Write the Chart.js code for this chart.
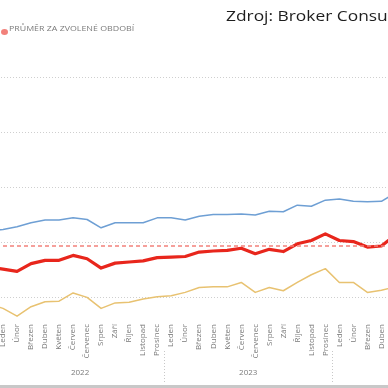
<!DOCTYPE html>
<html>
<head>
<meta charset="utf-8">
<script src="https://cdn.jsdelivr.net/npm/chart.js@4.4.1/dist/chart.umd.min.js"></script>
<style>
  html, body { margin: 0; padding: 0; background: #fff; overflow: hidden; width: 388px; height: 388px; }
  #wrap { position: absolute; left: -21px; top: 0; width: 430px; height: 388px; }
  #title { position: absolute; left: 226px; top: 9px; font: 14px/1 "Open Sans", sans-serif; color: #1e1e1e; white-space: nowrap; transform: scaleX(1.24); transform-origin: 0 0; }
  #legendDot { position: absolute; left: 1px; top: 29px; width: 7px; height: 6px; border-radius: 50%; background: #f2817b; }
  #legendText { position: absolute; left: 9px; top: 25px; font: 7px/1 "Open Sans", sans-serif; color: #7a7a7a; white-space: nowrap; transform: scaleX(1.26); transform-origin: 0 0; }
  #scroll { position: absolute; left: 0; top: 385px; width: 388px; height: 3px; background: #c8c8c8; }
</style>
</head>
<body>
<div id="wrap"><canvas id="chart" width="430" height="388"></canvas></div>
<div id="title">Zdroj: Broker Consulting</div>
<div id="legendDot"></div>
<div id="legendText">PRŮMĚR ZA ZVOLENÉ OBDOBÍ</div>
<div id="scroll"></div>
<script>
// Months shown (Prosinec 2021 and Květen 2024 sit just outside the visible area)
const months = ['Prosinec',
  'Leden', 'Únor', 'Březen', 'Duben', 'Květen', 'Červen', 'Červenec', 'Srpen', 'Září', 'Říjen', 'Listopad', 'Prosinec',
  'Leden', 'Únor', 'Březen', 'Duben', 'Květen', 'Červen', 'Červenec', 'Srpen', 'Září', 'Říjen', 'Listopad', 'Prosinec',
  'Leden', 'Únor', 'Březen', 'Duben', 'Květen'];
const years = ['2021',
  '2022', '2022', '2022', '2022', '2022', '2022', '2022', '2022', '2022', '2022', '2022', '2022',
  '2023', '2023', '2023', '2023', '2023', '2023', '2023', '2023', '2023', '2023', '2023', '2023',
  '2024', '2024', '2024', '2024', '2024'];

const upper = [5.21, 5.24, 5.29, 5.36, 5.41, 5.41, 5.45, 5.42, 5.27, 5.36, 5.36, 5.36, 5.45,
  5.45, 5.41, 5.48, 5.51, 5.51, 5.52, 5.50, 5.57, 5.56, 5.68, 5.66, 5.77,
  5.79, 5.75, 5.74, 5.75, 5.90];
const mean = [4.56, 4.52, 4.48, 4.62, 4.68, 4.68, 4.77, 4.71, 4.54, 4.63, 4.65, 4.67, 4.73,
  4.74, 4.75, 4.83, 4.85, 4.86, 4.90, 4.80, 4.88, 4.84, 4.98, 5.04, 5.16,
  5.04, 5.02, 4.92, 4.94, 5.14];
const lower = [3.89, 3.81, 3.67, 3.84, 3.93, 3.94, 4.09, 4.01, 3.81, 3.91, 3.92, 3.98, 4.02,
  4.04, 4.10, 4.19, 4.20, 4.20, 4.28, 4.10, 4.19, 4.13, 4.28, 4.42, 4.53,
  4.28, 4.28, 4.10, 4.14, 4.20];
const periodAverage = 4.94;
const gridValues = [4, 5, 6, 7, 8];

// year row + separators under the month labels
const yearAxis = {
  id: 'yearAxis',
  afterDraw(chart) {
    const x = chart.scales.x;
    const c = chart.ctx;
    c.save();
    c.font = '8px "Open Sans", sans-serif';
    c.fillStyle = '#7a7a7a';
    c.textAlign = 'center';
    c.textBaseline = 'middle';
    const groups = {};
    years.forEach((y, i) => { (groups[y] = groups[y] || []).push(i); });
    Object.keys(groups).forEach(y => {
      const idx = groups[y];
      if (idx.length < 12) return;
      const mid = (x.getPixelForValue(idx[0]) + x.getPixelForValue(idx[idx.length - 1])) / 2;
      c.fillText(y, mid, 373);
    });
    c.strokeStyle = '#c8c8c8';
    c.lineWidth = 1;
    c.setLineDash([1, 2]);
    for (let i = 1; i < years.length; i++) {
      if (years[i] !== years[i - 1]) {
        const sx = Math.round((x.getPixelForValue(i - 1) + x.getPixelForValue(i)) / 2) + 0.5;
        c.beginPath();
        c.moveTo(sx, 351);
        c.lineTo(sx, 384);
        c.stroke();
      }
    }
    c.restore();
  }
};

const ctx = document.getElementById('chart').getContext('2d');

new Chart(ctx, {
  type: 'line',
  data: {
    labels: months,
    datasets: [
      { label: 'Průměr za zvolené období', data: months.map(() => periodAverage), borderColor: '#f2817b', borderWidth: 1.5, borderDash: [4, 3] },
      { label: 'Maximum', data: upper, borderColor: '#6e9fd4', borderWidth: 1.5 },
      { label: 'Minimum', data: lower, borderColor: '#e8c271', borderWidth: 1.5 },
      { label: 'Průměr', data: mean, borderColor: '#e8261c', borderWidth: 3.2 }
    ]
  },
  options: {
    responsive: false,
    animation: false,
    layout: { padding: { left: 10, right: 10, top: 45, bottom: 0 } },
    elements: { point: { radius: 0 }, line: { tension: 0, borderJoinStyle: 'round' } },
    plugins: { legend: { display: false }, tooltip: { enabled: false } },
    scales: {
      x: {
        grid: { display: false, drawTicks: false },
        border: { display: false },
        ticks: {
          autoSkip: false, minRotation: 90, maxRotation: 90, padding: 4,
          color: '#7a7a7a', font: { family: 'Open Sans', size: 8 }
        },
        afterFit: s => { s.height = 68; }
      },
      y: {
        min: 3.6,
        max: 8.58,
        afterBuildTicks: s => { s.ticks = gridValues.map(v => ({ value: v })); },
        ticks: { display: false },
        grid: { color: '#cfcfcf', lineWidth: 1, drawTicks: false },
        border: { display: false, dash: [1, 2] },
        afterFit: s => { s.width = 0; }
      }
    }
  },
  plugins: [yearAxis]
});
</script>
</body>
</html>
